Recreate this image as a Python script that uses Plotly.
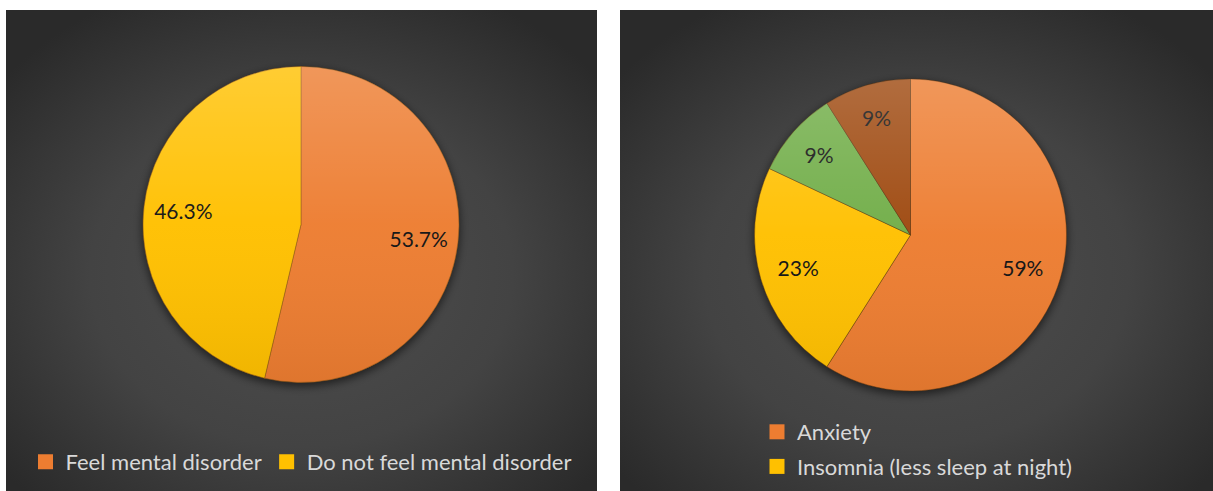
import base64
import plotly.graph_objects as go

# ---------------- data ----------------
left_labels = ["Feel mental disorder", "Do not feel mental disorder"]
left_values = [53.7, 46.3]
left_colors = ["#ED7D31", "#FFC000"]

right_labels = ["Anxiety", "Insomnia (less sleep at night)", "Other symptom 1", "Other symptom 2"]
right_values = [59, 23, 9, 9]
right_colors = ["#ED7D31", "#FFC000", "#70AD47", "#9E480E"]
right_legend_count = 2  # only the first two legend entries are visible in the original

W, H = 1213, 491
FONT = "Lato, 'Noto Sans', sans-serif"

# panel geometry (px)
panels = [
    dict(x0=6, y0=10, x1=597, y1=491, cx=301, cy=224.5, r=158),
    dict(x0=620, y0=10, x1=1213, y1=491, cx=910.5, cy=235, r=156),
]


def svg_uri(svg):
    return "data:image/svg+xml;base64," + base64.b64encode(svg.encode()).decode()


def panel_svg(p):
    w, h = p["x1"] - p["x0"], p["y1"] - p["y0"]
    cx, cy, r = p["cx"] - p["x0"], p["cy"] - p["y0"], p["r"]
    return f"""<svg xmlns='http://www.w3.org/2000/svg' width='{w}' height='{h}' viewBox='0 0 {w} {h}'>
<defs>
<radialGradient id='g' cx='50%' cy='55%' r='65%'>
<stop offset='0' stop-color='#4e4e4e'/>
<stop offset='0.55' stop-color='#434343'/>
<stop offset='1' stop-color='#2a2a2a'/>
</radialGradient>
<filter id='b' x='-20%' y='-20%' width='140%' height='140%'><feGaussianBlur stdDeviation='4'/></filter>
</defs>
<rect width='{w}' height='{h}' fill='url(#g)'/>
<circle cx='{cx}' cy='{cy + 3}' r='{r + 1}' fill='#000' fill-opacity='0.55' filter='url(#b)'/>
</svg>"""


def overlay_svg(r):
    d = 2 * r
    return f"""<svg xmlns='http://www.w3.org/2000/svg' width='{d}' height='{d}' viewBox='0 0 {d} {d}'>
<defs>
<linearGradient id='l' x1='0' y1='0' x2='0' y2='1'>
<stop offset='0' stop-color='#ffffff' stop-opacity='0.2'/>
<stop offset='0.5' stop-color='#ffffff' stop-opacity='0.03'/>
<stop offset='1' stop-color='#000000' stop-opacity='0.06'/>
</linearGradient>
</defs>
<circle cx='{r}' cy='{r}' r='{r}' fill='url(#l)'/>
</svg>"""


def domain(p):
    cx, cy, r = p["cx"], p["cy"], p["r"]
    return dict(x=[(cx - r) / W, (cx + r) / W], y=[(H - cy - r) / H, (H - cy + r) / H])


def add_pie(labels, values, colors, fmt, p, line_col):
    # filled pie (no text)
    fig.add_trace(go.Pie(
        labels=labels, values=values, sort=False, direction="clockwise", rotation=0,
        marker=dict(colors=colors, line=dict(color=line_col, width=1)),
        textinfo="none", showlegend=False, domain=domain(p), hoverinfo="label+percent",
    ))
    # transparent ring on top that carries the percentage labels at ~3/4 radius
    fig.add_trace(go.Pie(
        labels=labels, values=values, sort=False, direction="clockwise", rotation=0, hole=0.5,
        marker=dict(colors=["rgba(0,0,0,0)"] * len(values), line=dict(width=0)),
        texttemplate=fmt, textposition="inside", insidetextorientation="horizontal",
        textfont=dict(family=FONT, size=21, color="#111111"),
        showlegend=False, domain=domain(p), hoverinfo="skip",
    ))


fig = go.Figure()
add_pie(left_labels, left_values, left_colors, "%{percent:.1%}", panels[0], "rgba(150,90,20,0.55)")
add_pie(right_labels, right_values, right_colors, "%{percent:.0%}", panels[1], "rgba(90,50,10,0.45)")

# legend entries (square swatches)
for lab, col in zip(left_labels, left_colors):
    fig.add_trace(go.Scatter(x=[None], y=[None], mode="markers", name=lab,
                             marker=dict(symbol="square", size=15, color=col),
                             legend="legend", hoverinfo="skip"))
for lab, col in zip(right_labels[:right_legend_count], right_colors[:right_legend_count]):
    fig.add_trace(go.Scatter(x=[None], y=[None], mode="markers", name=lab, legendgroup=lab,
                             marker=dict(symbol="square", size=15, color=col),
                             legend="legend2", hoverinfo="skip"))

images = []
for p in panels:
    images.append(dict(source=svg_uri(panel_svg(p)), xref="paper", yref="paper",
                       x=p["x0"] / W, y=1 - p["y0"] / H,
                       sizex=(p["x1"] - p["x0"]) / W, sizey=(p["y1"] - p["y0"]) / H,
                       xanchor="left", yanchor="top", sizing="stretch", layer="below"))
    images.append(dict(source=svg_uri(overlay_svg(p["r"])), xref="paper", yref="paper",
                       x=(p["cx"] - p["r"]) / W, y=1 - (p["cy"] - p["r"]) / H,
                       sizex=2 * p["r"] / W, sizey=2 * p["r"] / H,
                       xanchor="left", yanchor="top", sizing="stretch", layer="above"))

fig.update_layout(
    width=W, height=H, margin=dict(l=0, r=0, t=0, b=0),
    paper_bgcolor="white", plot_bgcolor="rgba(0,0,0,0)",
    xaxis=dict(visible=False), yaxis=dict(visible=False),
    images=images,
    legend=dict(orientation="h", x=301 / W, xanchor="center", y=(H - 462) / H, yanchor="middle",
                bgcolor="rgba(0,0,0,0)", font=dict(family=FONT, size=22, color="#d9d9d9"),
                itemclick=False, itemdoubleclick=False),
    legend2=dict(orientation="v", x=757 / W, xanchor="left", y=(H - 411) / H, yanchor="top",
                 traceorder="grouped", tracegroupgap=3,
                 bgcolor="rgba(0,0,0,0)", font=dict(family=FONT, size=22, color="#d9d9d9"),
                 itemclick=False, itemdoubleclick=False),
)

fig.write_html("out.html", config={"displayModeBar": False},
               post_script="document.body.style.margin='0';document.body.style.overflow='hidden';")
